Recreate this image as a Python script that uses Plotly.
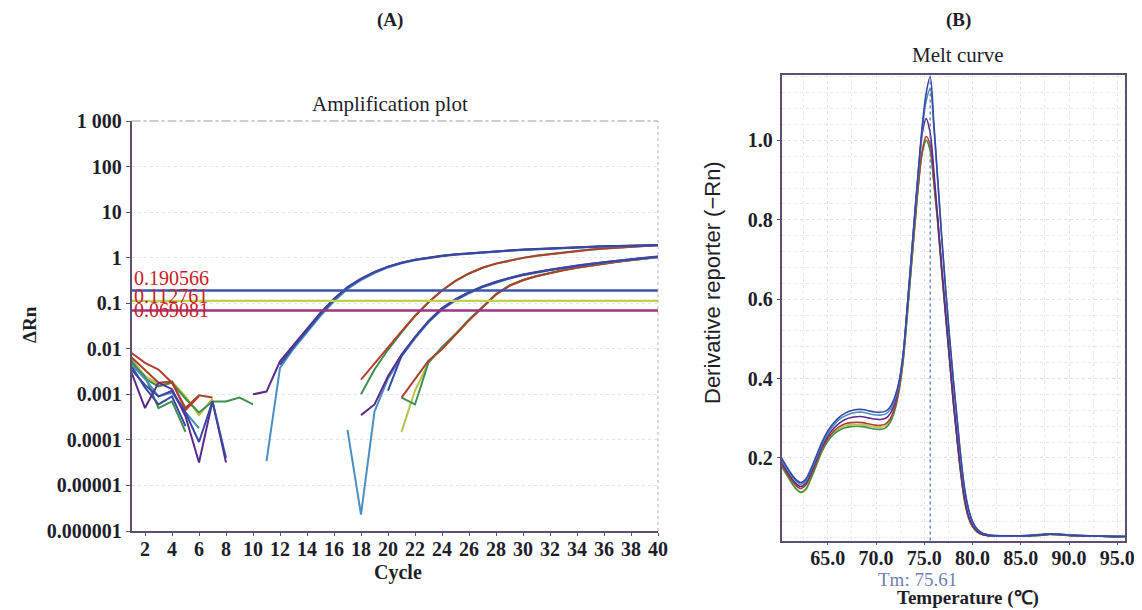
import math
import plotly.graph_objects as go

# ---------------- Panel A: amplification plot ----------------
cycles = list(range(1, 41))
N = None
amp_A1_blue = [0.0035, 0.0016, 0.0009, 0.0012, 0.0004, 0.00009, 0.0007, 0.00004, N, N,
               N, 0.0045, 0.011, 0.025, 0.058, 0.12, 0.22, 0.34, 0.48, 0.63,
               0.77, 0.90, 1.01, 1.10, 1.18, 1.25, 1.32, 1.38, 1.44, 1.50,
               1.55, 1.60, 1.65, 1.69, 1.73, 1.77, 1.80, 1.83, 1.86, 1.88]
amp_A2_purple = [0.003, 0.0005, 0.0018, 0.0013, 0.00033, 0.000032, 0.0007, 0.000032, N, 0.001,
                 0.00115, 0.0053, 0.012, 0.026, 0.062, 0.125, 0.225, 0.345, 0.485, 0.635,
                 0.775, 0.905, 1.015, 1.105, 1.185, 1.255, 1.325, 1.385, 1.445, 1.505,
                 1.555, 1.605, 1.655, 1.695, 1.735, 1.775, 1.805, 1.835, 1.865, 1.89]
amp_A3_cyan = [0.0045, 0.0022, 0.0009, 0.0011, 0.0004, 0.00018, N, N, N, N,
               0.000034, 0.0038, 0.010, 0.023, 0.053, 0.11, 0.205, 0.32, 0.46, 0.61,
               0.75, 0.88, 0.99, 1.08, 1.16, 1.23, 1.30, 1.36, 1.42, 1.48,
               1.53, 1.58, 1.63, 1.67, 1.71, 1.75, 1.78, 1.81, 1.84, 1.87]
amp_B1_red = [0.0081, 0.0049, 0.0035, 0.0018, 0.0005, 0.00095, 0.00085, N, N, N,
              N, N, N, N, N, N, N, 0.0021, 0.0048, 0.0105,
              0.024, 0.053, 0.105, 0.19, 0.31, 0.45, 0.60, 0.74, 0.87, 0.99,
              1.10, 1.20, 1.30, 1.40, 1.50, 1.58, 1.66, 1.74, 1.81, 1.88]
amp_B2_green = [0.0049, 0.0025, 0.0005, 0.0007, 0.00015, N, N, N, N, N,
                N, N, N, N, N, N, N, 0.001, 0.0035, 0.0095,
                0.023, 0.052, 0.105, 0.19, 0.31, 0.45, 0.60, 0.74, 0.87, 0.99,
                1.10, 1.21, 1.31, 1.41, 1.51, 1.59, 1.67, 1.75, 1.83, 1.90]
amp_C1_blue = [0.0042, 0.0014, 0.0006, 0.0009, 0.0002, N, N, N, N, N,
               N, N, N, N, N, N, N, N, N, 0.0012,
               0.007, 0.018, 0.041, 0.078, 0.123, 0.175, 0.235, 0.295, 0.36, 0.425,
               0.485, 0.545, 0.605, 0.67, 0.735, 0.80, 0.865, 0.93, 0.995, 1.06]
amp_C2_purple = [N, N, N, N, N, N, N, N, N, N,
                 N, N, N, N, N, N, N, 0.00035, 0.0006, 0.0025,
                 0.0075, 0.018, 0.040, 0.076, 0.12, 0.172, 0.232, 0.292, 0.358, 0.42,
                 0.48, 0.54, 0.60, 0.665, 0.73, 0.795, 0.86, 0.925, 0.99, 1.05]
amp_C3_cyan = [N, N, N, N, N, N, N, N, N, N,
               N, N, N, N, N, N, 0.000166, 0.0000023, 0.00042, 0.0022,
               0.0068, 0.017, 0.038, 0.072, 0.115, 0.165, 0.225, 0.285, 0.35, 0.41,
               0.47, 0.53, 0.59, 0.65, 0.71, 0.78, 0.84, 0.90, 0.96, 1.02]
amp_D1_red = [0.0065, 0.0035, 0.0018, 0.0019, 0.00045, 0.0009, N, N, N, N,
              N, N, N, N, N, N, N, N, N, N,
              0.00085, 0.0022, 0.0055, 0.0098, 0.020, 0.042, 0.080, 0.155, 0.24, 0.32,
              0.39, 0.46, 0.53, 0.60, 0.67, 0.74, 0.81, 0.88, 0.95, 1.02]
amp_D2_green = [0.0055, 0.0022, 0.0015, 0.0018, 0.0008, 0.0004, 0.0007, 0.0007, 0.00085, 0.0006,
                N, N, N, N, N, N, N, N, N, N,
                0.00085, 0.0006, 0.005, 0.011, 0.021, 0.044, 0.083, 0.16, 0.245, 0.325,
                0.395, 0.465, 0.535, 0.605, 0.675, 0.745, 0.815, 0.885, 0.955, 1.03]
amp_D3_olive = [0.006, 0.0025, 0.0017, 0.0019, 0.0009, 0.00035, 0.0008, N, N, N,
                N, N, N, N, N, N, N, N, N, N,
                0.00015, 0.0012, 0.005, 0.0105, 0.021, 0.043, 0.082, 0.158, 0.243, 0.323,
                0.393, 0.463, 0.533, 0.603, 0.673, 0.743, 0.813, 0.883, 0.953, 1.04]

amp_series = [
    (amp_D3_olive, "#b8c24a"), (amp_D2_green, "#3f8f4f"), (amp_D1_red, "#b0402e"),
    (amp_B2_green, "#3f8f4f"), (amp_B1_red, "#b0402e"),
    (amp_C3_cyan, "#4b8fc0"), (amp_C2_purple, "#5a2a8c"), (amp_C1_blue, "#3848a3"),
    (amp_A3_cyan, "#4b8fc0"), (amp_A2_purple, "#5a2a8c"), (amp_A1_blue, "#3848a3"),
]

thresholds = [0.190566, 0.112761, 0.069081]
threshold_colors = ["#3a56aa", "#bcd24a", "#9a3585"]
threshold_labels = ["0.190566", "0.112761", "0.069081"]

amp_tickvals = [1e-6, 1e-5, 1e-4, 1e-3, 1e-2, 1e-1, 1, 10, 100, 1000]
amp_ticktext = ["0.000001", "0.00001", "0.0001", "0.001", "0.01", "0.1", "1", "10", "100", "1 000"]
cycle_ticks = list(range(2, 41, 2))

# ---------------- Panel B: melt curve ----------------
temps = [60.2, 61.0, 61.6, 62.2, 62.7, 63.2, 63.8, 64.4, 65.0, 65.6, 66.2, 66.8, 67.4, 68.0,
         68.6, 69.2, 69.8, 70.4, 71.0, 71.5, 72.0, 72.4, 72.8, 73.2, 73.6, 74.0, 74.4, 74.8,
         75.2, 75.6, 76.0, 76.4, 76.8, 77.2, 77.6, 78.0, 78.4, 78.8, 79.2, 79.6, 80.0, 80.5,
         81.0, 81.5, 82.0, 83.0, 84.0, 85.0, 86.0, 87.0, 88.0, 89.0, 90.0, 91.0, 92.0, 93.0,
         94.0, 95.8]
melt_blue = [0.200, 0.168, 0.148, 0.138, 0.146, 0.170, 0.205, 0.240, 0.268, 0.288, 0.303, 0.313,
             0.319, 0.322, 0.322, 0.319, 0.316, 0.315, 0.318, 0.330, 0.358, 0.395, 0.460, 0.570,
             0.690, 0.810, 0.930, 1.040, 1.120, 1.160, 1.040, 0.900, 0.760, 0.630, 0.510, 0.400,
             0.300, 0.200, 0.120, 0.070, 0.040, 0.020, 0.011, 0.007, 0.005, 0.004, 0.004, 0.004,
             0.005, 0.007, 0.009, 0.008, 0.006, 0.005, 0.004, 0.003, 0.003, 0.002]
melt_cyan = [0.195, 0.164, 0.144, 0.134, 0.142, 0.166, 0.200, 0.235, 0.262, 0.282, 0.297, 0.306,
             0.312, 0.315, 0.315, 0.312, 0.309, 0.308, 0.311, 0.323, 0.352, 0.390, 0.455, 0.565,
             0.685, 0.805, 0.920, 1.030, 1.100, 1.130, 1.030, 0.895, 0.755, 0.625, 0.505, 0.395,
             0.295, 0.195, 0.115, 0.068, 0.038, 0.019, 0.010, 0.007, 0.005, 0.004, 0.004, 0.004,
             0.005, 0.007, 0.009, 0.008, 0.006, 0.005, 0.004, 0.003, 0.003, 0.002]
melt_purple = [0.190, 0.158, 0.138, 0.128, 0.136, 0.160, 0.194, 0.229, 0.255, 0.274, 0.288, 0.297,
               0.302, 0.304, 0.304, 0.301, 0.298, 0.297, 0.300, 0.313, 0.345, 0.390, 0.460, 0.570,
               0.690, 0.810, 0.925, 1.020, 1.055, 1.020, 0.920, 0.800, 0.680, 0.565, 0.455, 0.345,
               0.250, 0.165, 0.095, 0.052, 0.030, 0.015, 0.008, 0.005, 0.004, 0.003, 0.003, 0.003,
               0.004, 0.006, 0.008, 0.007, 0.005, 0.004, 0.003, 0.003, 0.002, 0.002]
melt_red = [0.185, 0.153, 0.133, 0.123, 0.131, 0.155, 0.189, 0.224, 0.249, 0.267, 0.279, 0.286,
            0.289, 0.290, 0.289, 0.286, 0.283, 0.282, 0.286, 0.300, 0.332, 0.378, 0.448, 0.555,
            0.670, 0.785, 0.895, 0.975, 1.010, 0.990, 0.900, 0.800, 0.680, 0.570, 0.460, 0.350,
            0.250, 0.160, 0.090, 0.050, 0.028, 0.014, 0.008, 0.005, 0.004, 0.003, 0.003, 0.003,
            0.004, 0.006, 0.008, 0.007, 0.005, 0.004, 0.003, 0.003, 0.002, 0.002]
melt_green = [0.180, 0.148, 0.126, 0.114, 0.121, 0.146, 0.181, 0.217, 0.242, 0.259, 0.270, 0.276,
              0.279, 0.280, 0.279, 0.276, 0.273, 0.272, 0.276, 0.291, 0.325, 0.372, 0.442, 0.550,
              0.665, 0.780, 0.890, 0.970, 1.000, 0.975, 0.890, 0.790, 0.670, 0.560, 0.450, 0.340,
              0.245, 0.155, 0.088, 0.048, 0.027, 0.013, 0.007, 0.005, 0.004, 0.003, 0.003, 0.003,
              0.004, 0.005, 0.007, 0.006, 0.005, 0.004, 0.003, 0.003, 0.002, 0.002]
melt_olive = [0.178, 0.146, 0.124, 0.112, 0.119, 0.144, 0.180, 0.216, 0.243, 0.262, 0.274, 0.281,
              0.284, 0.285, 0.284, 0.281, 0.278, 0.277, 0.281, 0.296, 0.328, 0.374, 0.445, 0.552,
              0.668, 0.782, 0.892, 0.972, 1.002, 0.978, 0.893, 0.793, 0.673, 0.563, 0.453, 0.343,
              0.247, 0.157, 0.089, 0.049, 0.027, 0.013, 0.007, 0.005, 0.004, 0.003, 0.003, 0.003,
              0.004, 0.005, 0.007, 0.006, 0.005, 0.004, 0.003, 0.003, 0.002, 0.002]

melt_series = [
    (melt_olive, "#b8c24a"), (melt_green, "#3f8f4f"), (melt_red, "#b0402e"),
    (melt_purple, "#5a2a8c"), (melt_cyan, "#4b8fc0"), (melt_blue, "#3848a3"),
]
tm_value = 75.61
temp_ticks = [65, 70, 75, 80, 85, 90, 95]
temp_ticktext = ["65.0", "70.0", "75.0", "80.0", "85.0", "90.0", "95.0"]
deriv_ticks = [0.2, 0.4, 0.6, 0.8, 1.0]
deriv_ticktext = ["0.2", "0.4", "0.6", "0.8", "1.0"]

# ---------------- Build figure ----------------
SERIF = "Liberation Serif"
OFF = 8                      # page body margin in the browser
W, H = 1142 - OFF, 610 - OFF  # figure size so it fits the window


def fx(xp):
    return (xp - OFF) / W


def fy(yp):
    return 1 - (yp - OFF) / H


fig = go.Figure()

for vals, col in amp_series:
    fig.add_trace(go.Scatter(x=cycles, y=vals, mode="lines", connectgaps=False,
                             line=dict(color=col, width=2), xaxis="x", yaxis="y",
                             showlegend=False, hoverinfo="skip"))

for thr, col in zip(thresholds, threshold_colors):
    fig.add_trace(go.Scatter(x=[1, 40], y=[thr, thr], mode="lines",
                             line=dict(color=col, width=2.4), xaxis="x", yaxis="y",
                             showlegend=False, hoverinfo="skip"))

for vals, col in melt_series:
    fig.add_trace(go.Scatter(x=temps, y=vals, mode="lines", line_shape="spline",
                             line=dict(color=col, width=1.6), xaxis="x2", yaxis="y2",
                             showlegend=False, hoverinfo="skip"))

tickfont = dict(family=SERIF, size=20, color="#1e1e2a", weight="bold")
axcol = "#5e4e72"

fig.update_layout(
    template="none",
    width=W, height=H, margin=dict(l=0, r=0, t=0, b=0, pad=0), autosize=False,
    paper_bgcolor="white", plot_bgcolor="white",
    font=dict(family=SERIF, color="#1e1e2a"),
    xaxis=dict(domain=[fx(131.5), fx(658)], range=[1, 40], anchor="y", automargin=False,
               tickvals=cycle_ticks, ticks="outside", ticklen=3, tickcolor=axcol,
               ticklabelstandoff=-4,
               showline=True, linecolor=axcol, linewidth=1.5, zeroline=False,
               showgrid=False, tickfont=tickfont),
    yaxis=dict(domain=[fy(531), fy(121)], type="log", range=[-6, 3], anchor="x",
               automargin=False,
               tickvals=amp_tickvals, ticktext=amp_ticktext, ticks="outside", ticklen=4,
               tickcolor=axcol, showline=True, linecolor=axcol, linewidth=1.5,
               zeroline=False, showgrid=True, gridcolor="#e2e2ea", griddash="dot",
               tickfont=tickfont),
    xaxis2=dict(domain=[fx(781.5), fx(1125)], range=[60.2, 95.8], anchor="y2",
                automargin=False, ticklabelstandoff=-4,
                tickvals=temp_ticks, ticktext=temp_ticktext, ticks="outside", ticklen=3,
                tickcolor=axcol, showline=True, mirror=True, linecolor=axcol, linewidth=1.5,
                zeroline=False, showgrid=True, gridcolor="#e4e4ec", griddash="dot",
                minor=dict(tick0=60, dtick=2.5, showgrid=True, gridcolor="#e8e8ee", griddash="dot"),
                tickfont=tickfont),
    yaxis2=dict(domain=[fy(540.5), fy(75)], range=[-0.008, 1.165], anchor="x2",
                automargin=False,
                tickvals=deriv_ticks, ticktext=deriv_ticktext, ticks="outside", ticklen=3,
                tickcolor=axcol, showline=True, mirror=True, linecolor=axcol, linewidth=1.5,
                zeroline=False, showgrid=True, gridcolor="#e0e0e8", griddash="dot",
                minor=dict(tick0=0, dtick=0.04, showgrid=True, gridcolor="#e8e8ee", griddash="dot"),
                tickfont=tickfont),
)

# left panel top / right borders (faint dashed)
fig.add_shape(type="line", xref="x domain", yref="y domain", x0=0, x1=1, y0=1, y1=1,
              line=dict(color="#9a9aaa", width=1, dash="dashdot"))
fig.add_shape(type="line", xref="x domain", yref="y domain", x0=1, x1=1, y0=0, y1=1,
              line=dict(color="#b0b0bc", width=1, dash="dot"))
# Tm line
fig.add_shape(type="line", xref="x2", yref="y2 domain", x0=tm_value, x1=tm_value, y0=0, y1=1,
              line=dict(color="#5a78b8", width=1.3, dash="dot"))

anns = []
def add_text(text, xp, yp, size, color="#1e1e2a", angle=0, bold=False, family=SERIF):
    anns.append(dict(text=text, x=fx(xp), y=fy(yp), xref="paper", yref="paper",
                     showarrow=False, textangle=angle, xanchor="center", yanchor="middle",
                     font=dict(family=family, size=size, color=color,
                               weight="bold" if bold else "normal")))

add_text("(A)", 390, 20, 19, bold=True)
add_text("(B)", 958, 20, 19, bold=True)
add_text("Amplification plot", 390, 104, 21)
add_text("Melt curve", 958, 55, 21)
add_text("Cycle", 398, 572, 20, bold=True)
add_text("ΔRn", 30, 325, 19, angle=-90, bold=True)
add_text("Derivative reporter (−Rn)", 712, 283, 22, angle=-90,
         family="Liberation Sans Narrow, Liberation Sans, Arial")
add_text("Tm: 75.61", 917, 579, 19, color="#7080b4")
add_text("Temperature (℃)", 968, 598, 19, bold=True)

# threshold labels
thr_anchor = ["bottom", "middle", "middle"]
thr_shift = [-1, 5, 1]
for thr, lab, anc, sh in zip(thresholds, threshold_labels, thr_anchor, thr_shift):
    anns.append(dict(text=lab, x=1, y=math.log10(thr), xref="x", yref="y",
                     xanchor="left", yanchor=anc, yshift=sh, showarrow=False,
                     font=dict(family=SERIF, size=20, color="#c8202a")))

fig.update_layout(annotations=anns)
fig.write_html("out.html")
